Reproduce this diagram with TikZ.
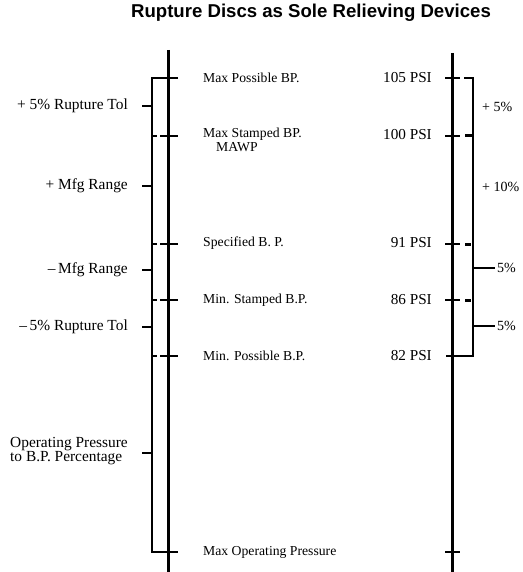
\documentclass[tikz,border=0pt]{standalone}
\usepackage{fontspec}
\setmainfont{Liberation Serif}
\newfontfamily\titlefont{Liberation Sans}
\begin{document}
\begin{tikzpicture}[x=1pt,y=-1pt,
  axisline/.style={line width=3pt},
  brk/.style={line width=1.3pt},
  tk/.style={line width=1.3pt},
  blk/.style={line width=3pt},
  ttl/.style={font=\titlefont\bfseries\fontsize{18.6}{20}\selectfont, inner sep=0pt},
  lft/.style={font=\fontsize{15.4}{16}\selectfont, inner sep=0pt, anchor=east},
  mid/.style={font=\fontsize{13.7}{14.5}\selectfont, inner sep=0pt, anchor=west},
  val/.style={font=\fontsize{15.2}{16}\selectfont, inner sep=0pt, anchor=east},
  rgt/.style={font=\fontsize{14}{15}\selectfont, inner sep=0pt, anchor=west}]
\useasboundingbox (0,0) rectangle (522,572);
% title
\node[ttl] (title) at (311,13) {Rupture Discs as Sole Relieving Devices};
% axes
\coordinate (LAtop) at (168,50); \coordinate (LAbot) at (168,572);
\coordinate (RAtop) at (452,53); \coordinate (RAbot) at (452,572);
\draw[axisline] (LAtop) -- (LAbot);
\draw[axisline] (RAtop) -- (RAbot);
% left bracket
\draw[brk] (178,78) -- (152,78) -- (152,552) -- (178,552);
\foreach \y in {136,244,300,356}{
  \draw[brk] (152,\y) -- (157,\y);
  \draw[tk] (160,\y) -- (178,\y);
}
\foreach \y in {106,186,270,327,453}{
  \draw[tk] (142,\y) -- (152,\y);
}
% right axis ticks
\foreach \y in {78,136,244,300,552}{
  \draw[tk] (445,\y) -- (460,\y);
}
% right bracket
\draw[brk] (464,78) -- (473,78) -- (473,356) -- (446,356);
\draw[blk] (465,136) -- (473,136);
\draw[blk] (465,244) -- (471,244);
\draw[blk] (465,300) -- (471,300);
\draw[tk] (473,268) -- (495,268);
\draw[tk] (473,326) -- (495,326);
% left labels
\node[lft] (l1) at (128,106) {+ 5\% Rupture Tol};
\node[lft] (l2) at (128,186) {+ Mfg Range};
\node[lft] (l3) at (128,270) {\textendash\,Mfg Range};
\node[lft] (l4) at (128,327) {\textendash\,5\% Rupture Tol};
\node[font=\fontsize{15.4}{14.5}\selectfont, inner sep=0pt, anchor=west, align=left] (l5) at (10,451) {Operating Pressure\\to B.P. Percentage};
% middle labels
\node[mid] (m1) at (203,78) {Max Possible BP.};
\node[mid] (m2) at (203,134) {Max Stamped BP.};
\node[mid] (m2b) at (216,147) {MAWP};
\node[mid] (m3) at (203,243) {Specified B. P.};
\node[mid] (m4) at (203,300) {Min. Stamped B.P.};
\node[mid] (m5) at (203,356) {Min. Possible B.P.};
\node[mid] (m6) at (203,552) {Max Operating Pressure};
% values
\node[val] (v1) at (432,78) {105 PSI};
\node[val] (v2) at (432,135) {100 PSI};
\node[val] (v3) at (432,243) {91 PSI};
\node[val] (v4) at (432,300) {86 PSI};
\node[val] (v5) at (432,356) {82 PSI};
% right labels
\node[rgt] (r1) at (482,107) {+ 5\%};
\node[rgt] (r2) at (482,187) {+ 10\%};
\node[rgt] (r3) at (497,268) {5\%};
\node[rgt] (r4) at (497,326) {5\%};
\end{tikzpicture}
\end{document}
